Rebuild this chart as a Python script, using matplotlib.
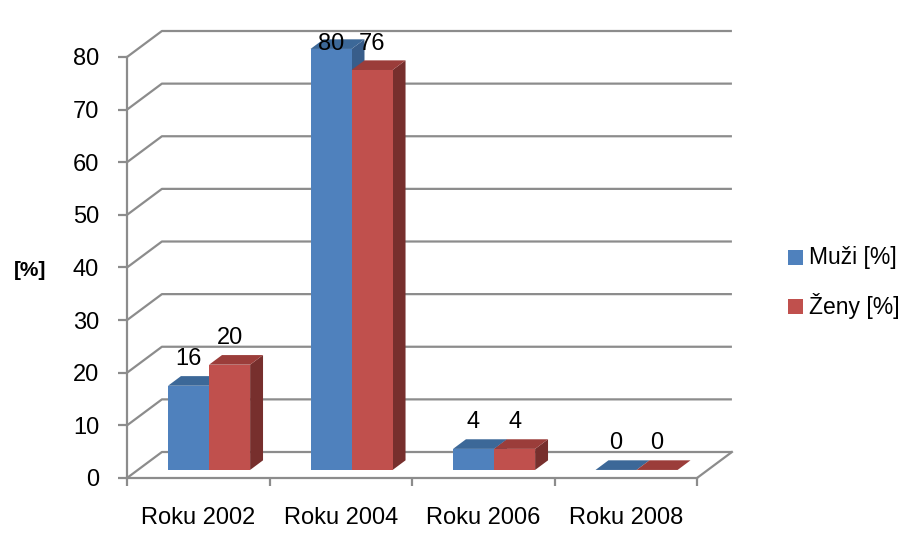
import matplotlib
matplotlib.use("Agg")
import matplotlib.pyplot as plt
from matplotlib.patches import Polygon, Rectangle

plt.rcParams['font.family'] = ['Liberation Sans', 'DejaVu Sans']

categories = ["Roku 2002", "Roku 2004", "Roku 2006", "Roku 2008"]
muzi = [16, 80, 4, 0]
zeny = [20, 76, 4, 0]
series_names = ["Muži [%]", "Ženy [%]"]
y_ticks = [0, 10, 20, 30, 40, 50, 60, 70, 80]

front_cols = ["#4F81BD", "#C0504D"]
top_cols = ["#3C6898", "#9B3D3A"]
side_cols = ["#385D8A", "#772F2D"]
grid_col = "#8C8C8C"

# depth of the 3d box, in data units (x: categories, y: percent)
DX, DY = 0.245, 4.94
F0, F1 = 0.31, 0.68    # front / back depth fraction of the bars
BW = 0.288             # bar width
FS = 17

W, H = 902, 534
fig = plt.figure(figsize=(W / 100, H / 100), dpi=100)
ax = fig.add_axes([127 / W, 56 / H, 570 / W, 421 / H])
ax.set_xlim(-0.5, 3.5)
ax.set_ylim(0, 80)

# walls and gridlines
x0, x1 = -0.5, 3.5
for v in y_ticks:
    ax.plot([x0, x0 + DX, x1 + DX], [v, v + DY, v + DY], color=grid_col, lw=1.6,
            clip_on=False, zorder=1, solid_capstyle='butt')
ax.plot([x1, x1 + DX], [0, DY], color=grid_col, lw=1.6, clip_on=False, zorder=1)


def box(xl, v, k):
    xr = xl + BW
    fx, fy = F0 * DX, F0 * DY
    bx, by = F1 * DX, F1 * DY
    side = [(xr + fx, fy), (xr + bx, by), (xr + bx, v + by), (xr + fx, v + fy)]
    top = [(xl + fx, v + fy), (xr + fx, v + fy), (xr + bx, v + by), (xl + bx, v + by)]
    front = [(xl + fx, fy), (xr + fx, fy), (xr + fx, v + fy), (xl + fx, v + fy)]
    ax.add_patch(Polygon(side, closed=True, fc=side_cols[k], ec='none', zorder=3, clip_on=False))
    ax.add_patch(Polygon(top, closed=True, fc=top_cols[k], ec='none', zorder=3, clip_on=False))
    if v > 0:
        ax.add_patch(Polygon(front, closed=True, fc=front_cols[k], ec='none', zorder=3, clip_on=False))
    lab_y = min(v + fy + 5.13, 82.5)
    ax.text(xl + BW / 2 + fx, lab_y, str(v), ha='center', va='center', fontsize=FS,
            color='#000000', zorder=5, clip_on=False)


for i in range(len(categories)):
    box(i - BW, muzi[i], 0)
    box(i, zeny[i], 1)

for s in ['top', 'right']:
    ax.spines[s].set_visible(False)
for s in ['left', 'bottom']:
    ax.spines[s].set_color(grid_col)
    ax.spines[s].set_linewidth(1.6)
    ax.spines[s].set_zorder(2)

ax.set_yticks(y_ticks)
ax.tick_params(axis='y', length=6.5, width=1.6, color=grid_col, pad=13.5, labelsize=FS)
ax.set_xticks([-0.5, 0.5, 1.5, 2.5, 3.5])
ax.set_xticklabels([])
ax.tick_params(axis='x', length=5.5, width=1.6, color=grid_col)
ax.set_xticks(range(len(categories)), minor=True)
ax.set_xticklabels(categories, minor=True)
ax.tick_params(axis='x', which='minor', length=0, pad=21, labelsize=FS)
ax.patch.set_visible(False)

fig.text(30 / W, 1 - 270 / H, "[%]", ha='center', va='center', fontsize=15, fontweight='bold')

# legend
for k, name in enumerate(series_names):
    yc = 257.5 + 48.5 * k
    fig.add_artist(Rectangle((788 / W, 1 - (yc + 7.5) / H), 15 / W, 15 / H,
                             transform=fig.transFigure, fc=front_cols[k], ec='none'))
    fig.text(809 / W, 1 - yc / H, name, ha='left', va='center', fontsize=16.5)

fig.savefig("out.png", dpi=100)
